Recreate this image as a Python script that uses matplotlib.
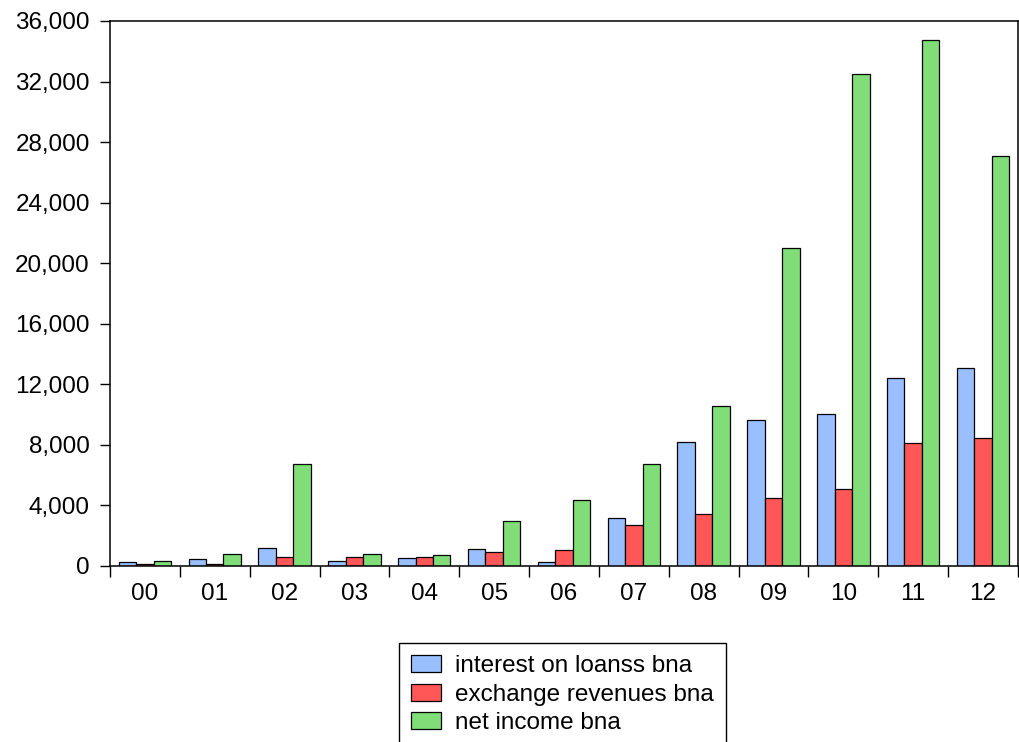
import numpy as np
import matplotlib
matplotlib.use("Agg")
import matplotlib.pyplot as plt
from matplotlib.ticker import FuncFormatter, FixedLocator, NullFormatter

plt.rcParams['font.family'] = ['Liberation Sans', 'DejaVu Sans']

years = ["00", "01", "02", "03", "04", "05", "06", "07", "08", "09", "10", "11", "12"]
interest_on_loans = [250, 460, 1210, 350, 530, 1120, 240, 3190, 8210, 9660, 10060, 12410, 13070]
exchange_revenues = [130, 150, 570, 590, 610, 920, 1060, 2730, 3410, 4490, 5100, 8100, 8470]
net_income = [340, 770, 6730, 810, 700, 2970, 4360, 6750, 10540, 20990, 32500, 34720, 27090]

series = [
    ("interest on loanss bna", interest_on_loans, "#99BFFF"),
    ("exchange revenues bna", exchange_revenues, "#FF5757"),
    ("net income bna", net_income, "#80DD77"),
]

fig = plt.figure(figsize=(10.2, 7.42), dpi=100)
ax = fig.add_axes([110 / 1020, 1 - 566 / 742, 908 / 1020, 545 / 742])

x = np.arange(len(years))
width = 0.25
for i, (label, vals, color) in enumerate(series):
    ax.bar(x + (i - 1) * width, vals, width, color=color, edgecolor="black",
           linewidth=0.9, label=label, zorder=2)

ax.set_xlim(-0.5, len(years) - 0.5)
ax.set_ylim(0, 36000)
ax.set_yticks(np.arange(0, 36001, 4000))
ax.yaxis.set_major_formatter(FuncFormatter(lambda v, p: f"{int(v):,}"))

ax.set_xticks(x)
ax.set_xticklabels(years)
ax.xaxis.set_minor_locator(FixedLocator(np.arange(-0.5, len(years), 1.0)))
ax.xaxis.set_minor_formatter(NullFormatter())
ax.tick_params(axis="x", which="major", length=0, pad=12.5, labelsize=17.5)
ax.tick_params(axis="x", which="minor", length=8, width=1, direction="out")
ax.tick_params(axis="y", which="major", length=7, width=1, direction="out",
               pad=7.5, labelsize=17.5)

for s in ax.spines.values():
    s.set_linewidth(1.1)
    s.set_color("black")

fig.legend(loc="upper left", bbox_to_anchor=(399 / 1020, 1 - 643 / 742),
           borderaxespad=0, fontsize=17.5, frameon=True, fancybox=False,
           edgecolor="black", framealpha=1, handlelength=1.22,
           handleheight=0.7, handletextpad=0.6, labelspacing=0.27,
           borderpad=0.5)

fig.savefig("out.png", dpi=100)
